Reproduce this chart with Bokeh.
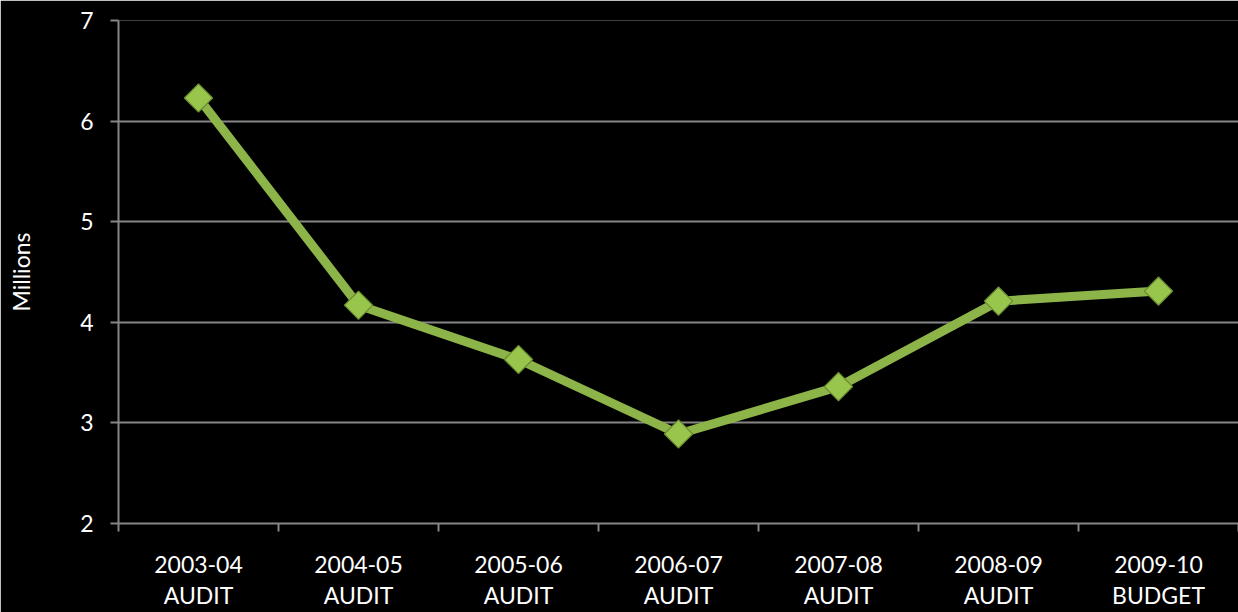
import numpy as np
from bokeh.plotting import figure
from bokeh.models import FixedTicker, Range1d, ColumnDataSource
from bokeh.embed import file_html
from bokeh.resources import INLINE

categories = ["2003-04\nAUDIT", "2004-05\nAUDIT", "2005-06\nAUDIT", "2006-07\nAUDIT",
              "2007-08\nAUDIT", "2008-09\nAUDIT", "2009-10\nBUDGET"]
values = [6.23, 4.17, 3.63, 2.89, 3.36, 4.21, 4.31]
y_ticks = [2, 3, 4, 5, 6, 7]
y_label = "Millions"

FONT = "Lato"
TXT = "#ffffff"
GRID = "#868686"

n = len(categories)
xs = np.arange(n) + 0.5
src = ColumnDataSource(dict(x=xs, y=values))

p = figure(width=1238, height=612, output_backend="svg", toolbar_location=None,
           x_range=Range1d(0, n), y_range=Range1d(2, 7),
           min_border_left=118, min_border_top=20, min_border_bottom=89, min_border_right=0)
p.background_fill_color = "black"
p.border_fill_color = "black"
p.outline_line_color = None

p.line("x", "y", source=src, line_color="#8cb448", line_width=9)
p.scatter("x", "y", source=src, marker="square", angle=np.pi / 4, size=20,
          fill_color="#98c64c", line_color="#6a8a30", line_width=1.2)

# x axis
xa = p.xaxis[0]
xa.ticker = FixedTicker(ticks=list(xs), minor_ticks=list(range(n + 1)))
xa.major_label_overrides = {float(x): c for x, c in zip(xs, categories)}
xa.major_tick_line_color = None
xa.major_tick_out = 0
xa.major_tick_in = 0
xa.minor_tick_line_color = GRID
xa.minor_tick_line_width = 2
xa.minor_tick_out = 8
xa.minor_tick_in = 0
xa.axis_line_color = GRID
xa.axis_line_width = 2
xa.major_label_text_font = FONT
xa.major_label_text_font_size = "23px"
xa.major_label_text_color = TXT
xa.major_label_text_line_height = 1.11
xa.major_label_standoff = 18

# y axis
ya = p.yaxis[0]
ya.ticker = FixedTicker(ticks=y_ticks, minor_ticks=[])
ya.major_tick_line_color = GRID
ya.major_tick_line_width = 2
ya.major_tick_out = 8
ya.major_tick_in = 0
ya.minor_tick_line_color = None
ya.axis_line_color = GRID
ya.axis_line_width = 2
ya.major_label_text_font = FONT
ya.major_label_text_font_size = "23px"
ya.major_label_text_color = TXT
ya.major_label_standoff = 17
ya.axis_label = y_label
ya.axis_label_text_font = FONT
ya.axis_label_text_font_size = "23px"
ya.axis_label_text_font_style = "normal"
ya.axis_label_text_color = TXT
ya.axis_label_standoff = 42

p.xgrid.grid_line_color = None
p.ygrid.grid_line_color = GRID
p.ygrid.grid_line_width = 2

open("out.html", "w").write(file_html(p, INLINE))
